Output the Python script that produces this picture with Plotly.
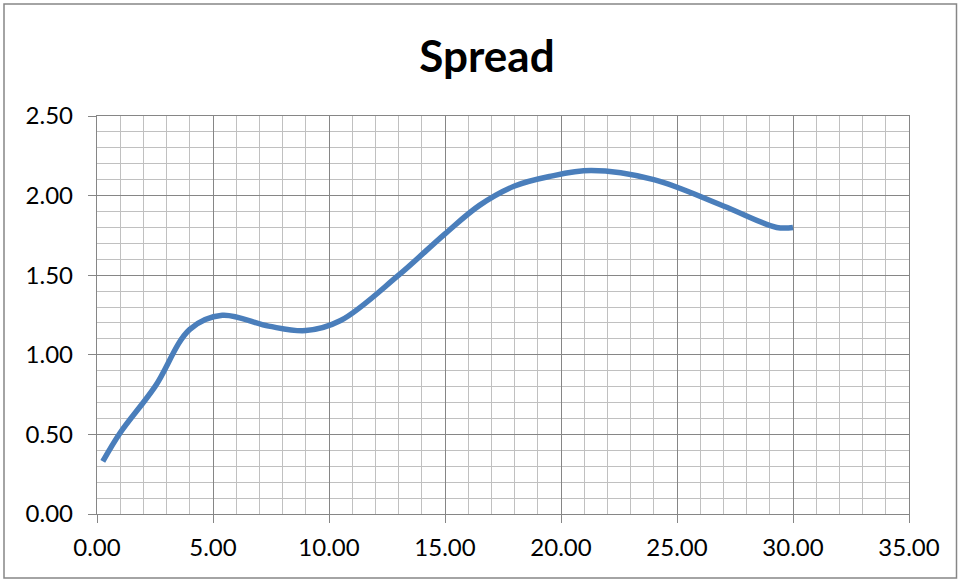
import plotly.graph_objects as go

# Data
maturity = [0.25, 1.0, 2.5, 4.0, 5.4, 7.4, 9.0, 10.5, 13.0, 15.0, 16.5, 18.0, 19.5, 21.3, 24.0, 27.0, 29.3, 30.0]
spread = [0.33, 0.51, 0.80, 1.16, 1.248, 1.18, 1.152, 1.215, 1.50, 1.76, 1.94, 2.06, 2.12, 2.157, 2.10, 1.935, 1.80, 1.80]

x_ticks = [0, 5, 10, 15, 20, 25, 30, 35]
x_labels = ["0.00", "5.00", "10.00", "15.00", "20.00", "25.00", "30.00", "35.00"]
y_ticks = [0, 0.5, 1.0, 1.5, 2.0, 2.5]
y_labels = ["0.00", "0.50", "1.00", "1.50", "2.00", "2.50"]

MAJOR = "#868686"
MINOR = "#c0c0c0"
FONT = "Lato"

fig = go.Figure()
fig.add_trace(go.Scatter(
    x=maturity, y=spread, mode="lines",
    line=dict(color="#4a7ebb", width=5.5, shape="spline", smoothing=1.0),
    hoverinfo="x+y", showlegend=False,
))

L, R, T, B = 97, 49, 116, 67
W, H = 958, 581
pw, ph = W - L - R, H - T - B

fig.update_layout(
    width=W, height=H,
    margin=dict(l=L, r=R, t=T, b=B),
    paper_bgcolor="white", plot_bgcolor="white",
    title=dict(text="<b>Spread</b>", x=487 / W, xanchor="center", xref="container",
               y=1 - 57 / H, yanchor="middle", yref="container",
               font=dict(family=FONT, size=44, color="black")),
    xaxis=dict(
        range=[0, 35], tickvals=x_ticks, ticktext=x_labels,
        showgrid=True, gridcolor=MAJOR, gridwidth=1.4,
        minor=dict(dtick=1, showgrid=True, gridcolor=MINOR, gridwidth=1.4, ticks=""),
        showline=True, linecolor=MAJOR, linewidth=1.4, mirror=True,
        ticks="outside", ticklen=8, tickcolor=MAJOR, tickwidth=1.4,
        ticklabelstandoff=4,
        tickfont=dict(family=FONT, size=24, color="black"),
        zeroline=False, fixedrange=True,
    ),
    yaxis=dict(
        range=[0, 2.5], tickvals=y_ticks, ticktext=y_labels,
        showgrid=True, gridcolor=MAJOR, gridwidth=1.4,
        minor=dict(dtick=0.1, showgrid=True, gridcolor=MINOR, gridwidth=1.4, ticks=""),
        showline=True, linecolor=MAJOR, linewidth=1.4, mirror=True,
        ticks="outside", ticklen=8, tickcolor=MAJOR, tickwidth=1.4,
        ticklabelstandoff=10,
        tickfont=dict(family=FONT, size=24, color="black"),
        zeroline=False, fixedrange=True,
    ),
    shapes=[dict(
        type="rect", xref="paper", yref="paper", layer="below",
        x0=(4 - L) / pw, x1=(956.5 - L) / pw,
        y0=(H - B - 578) / ph, y1=(H - B - 4) / ph,
        line=dict(color=MAJOR, width=1.5), fillcolor="rgba(0,0,0,0)",
    )],
)

fig.write_html("out.html")
